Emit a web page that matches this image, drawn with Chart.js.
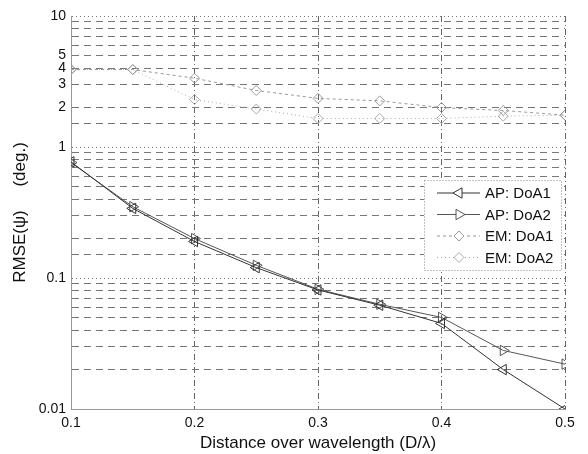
<!DOCTYPE html>
<html>
<head>
<meta charset="utf-8">
<script src="https://cdn.jsdelivr.net/npm/chart.js@4.4.1/dist/chart.umd.min.js"></script>
<style>
  html, body { margin: 0; padding: 0; background: #fff; }
  #wrap { width: 588px; height: 454px; }
</style>
</head>
<body>
<div id="wrap"><canvas id="myChart"></canvas></div>
<script>
// distance over wavelength (D/lambda)
var distance = [0.1, 0.15, 0.2, 0.25, 0.3, 0.35, 0.4, 0.45, 0.5];

// RMSE values in degrees
var apDoA1 = [0.77, 0.34, 0.19, 0.12, 0.081, 0.062, 0.045, 0.020, 0.010];
var apDoA2 = [0.76, 0.35, 0.20, 0.125, 0.082, 0.063, 0.050, 0.028, 0.022];
var emDoA1 = [3.9, 3.9, 3.35, 2.7, 2.35, 2.25, 2.0, 1.9, 1.75];
var emDoA2 = [3.9, 3.9, 2.3, 1.95, 1.65, 1.65, 1.65, 1.72, 1.75];

var yLabels = [10, 5, 4, 3, 2, 1, 0.1, 0.01];
var majorY = [10, 1, 0.1, 0.01];
var xTicks = [0.1, 0.2, 0.3, 0.4, 0.5];

function pts(arr) {
  return arr.map(function(v, i) { return {x: distance[i], y: v}; });
}
function inList(v, list) {
  return list.some(function(t) { return Math.abs(t - v) / t < 1e-6; });
}

var FONT = "'Liberation Sans', Arial, sans-serif";

// MATLAB style legend drawn inside the axes
var boxLegend = {
  id: 'boxLegend',
  afterDraw: function(chart) {
    var c = chart.ctx;
    var x0 = 424, y0 = 180, w = 137, h = 90;
    c.save();
    c.fillStyle = '#fff';
    c.fillRect(x0, y0, w, h);
    c.strokeStyle = '#888';
    c.lineWidth = 1;
    c.setLineDash([1, 2]);
    c.strokeRect(x0 + 0.5, y0 + 0.5, w, h);
    chart.data.datasets.forEach(function(ds, i) {
      var y = y0 + 13 + i * 21.5;
      c.strokeStyle = ds.borderColor;
      c.lineWidth = 1;
      c.setLineDash(ds.borderDash || []);
      c.beginPath();
      c.moveTo(x0 + 13, y);
      c.lineTo(x0 + 56, y);
      c.stroke();
      c.setLineDash([]);
      c.fillStyle = '#fff';
      Chart.helpers.drawPoint(c, {
        pointStyle: ds.pointStyle,
        rotation: ds.pointRotation || 0,
        radius: ds.pointRadius,
        borderWidth: 1
      }, x0 + 35, y);
      c.fillStyle = '#111';
      c.font = '15px ' + FONT;
      c.textBaseline = 'middle';
      c.fillText(ds.label, x0 + 61, y + 1);
    });
    c.restore();
  }
};

var ctx = document.getElementById('myChart');

var myChart = new Chart(ctx, {
  type: 'scatter',
  data: {
    datasets: [{
      label: 'AP: DoA1',
      data: pts(apDoA1),
      showLine: true,
      borderColor: '#333',
      backgroundColor: 'rgba(0,0,0,0)',
      borderWidth: 1,
      pointStyle: 'triangle',
      pointRotation: -90,
      pointRadius: 6
    }, {
      label: 'AP: DoA2',
      data: pts(apDoA2),
      showLine: true,
      borderColor: '#555',
      backgroundColor: 'rgba(0,0,0,0)',
      borderWidth: 1,
      pointStyle: 'triangle',
      pointRotation: 90,
      pointRadius: 6
    }, {
      label: 'EM: DoA1',
      data: pts(emDoA1),
      showLine: true,
      borderColor: '#999',
      backgroundColor: 'rgba(0,0,0,0)',
      borderWidth: 1,
      borderDash: [3, 3],
      pointStyle: 'rectRot',
      pointRadius: 5
    }, {
      label: 'EM: DoA2',
      data: pts(emDoA2),
      showLine: true,
      borderColor: '#aaa',
      backgroundColor: 'rgba(0,0,0,0)',
      borderWidth: 1,
      borderDash: [1, 3],
      pointStyle: 'rectRot',
      pointRadius: 5
    }]
  },
  options: {
    responsive: true,
    maintainAspectRatio: false,
    animation: false,
    layout: { padding: { top: 16, right: 23, left: 0, bottom: 0 } },
    plugins: {
      legend: { display: false },
      tooltip: { enabled: false }
    },
    scales: {
      x: {
        type: 'linear',
        min: 0.1,
        max: 0.5,
        afterBuildTicks: function(scale) {
          scale.ticks = xTicks.map(function(v) { return {value: v}; });
        },
        afterFit: function(scale) { scale.height = 45; },
        ticks: {
          color: '#111',
          font: { family: FONT, size: 14 },
          padding: 6,
          maxRotation: 0,
          callback: function(v) { return v.toFixed(1); }
        },
        grid: {
          color: '#666',
          lineWidth: 1,
          drawTicks: false
        },
        border: { display: true, color: '#999', dash: [6, 3, 1, 3] },
        title: {
          display: true,
          text: 'Distance over wavelength (D/\u03bb)',
          color: '#111',
          font: { family: FONT, size: 17 },
          padding: { top: 0, bottom: 0 }
        }
      },
      y: {
        type: 'logarithmic',
        min: 0.01,
        max: 10,
        afterFit: function(scale) { scale.width = 71; },
        ticks: {
          autoSkip: false,
          color: '#111',
          font: { family: FONT, size: 14 },
          padding: 5,
          callback: function(v) {
            return inList(v, yLabels) ? String(v) : '';
          }
        },
        grid: {
          color: '#777',
          lineWidth: 1,
          drawTicks: false
        },
        border: {
          display: true,
          color: '#999',
          dash: function(c) {
            if (!c.tick) return [];
            return inList(c.tick.value, majorY) ? [1, 3] : [7, 5];
          }
        },
        title: {
          display: true,
          text: 'RMSE(\u03c8)     (deg.)',
          color: '#111',
          font: { family: FONT, size: 17 },
          padding: { top: 10, bottom: 4 }
        }
      }
    }
  },
  plugins: [boxLegend]
});
</script>
</body>
</html>
